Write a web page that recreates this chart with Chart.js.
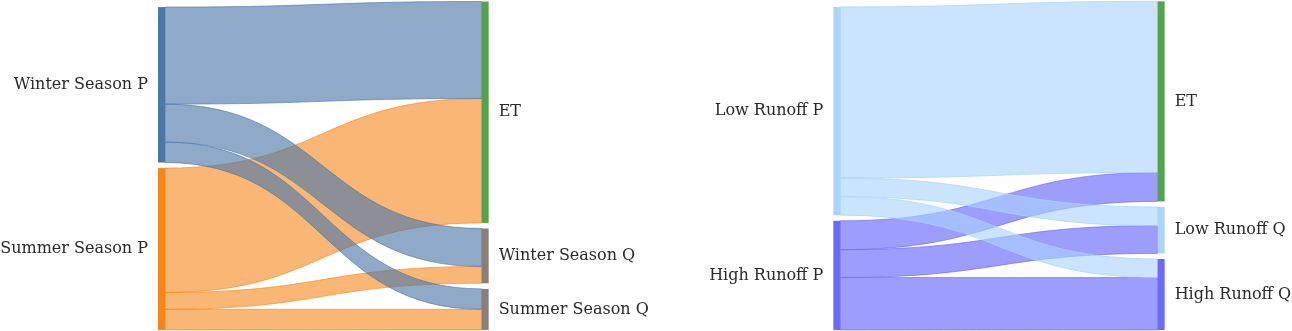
<!DOCTYPE html>
<html>
<head>
<meta charset="utf-8">
<script src="https://cdn.jsdelivr.net/npm/chart.js@4.4.0/dist/chart.umd.min.js"></script>
<style>
  html, body { margin: 0; padding: 0; background: #ffffff; }
  #wrap { width: 1292px; height: 331px; position: relative; }
</style>
</head>
<body>
<div id="wrap"><canvas id="sankey"></canvas></div>
<script>
// left panel: seasonal partition of precipitation
var seasonSources = ['Winter Season P', 'Summer Season P'];
var seasonTargets = ['ET', 'Winter Season Q', 'Summer Season Q'];
// one row per source, one column per target
var seasonFlows = [
    [97.0, 38.0, 20.4],
    [124.4, 16.8, 20.7]
];

// right panel: low / high runoff years
var runoffSources = ['Low Runoff P', 'High Runoff P'];
var runoffTargets = ['ET', 'Low Runoff Q', 'High Runoff Q'];
var runoffFlows = [
    [171.2, 18.6, 18.5],
    [28.9, 27.8, 52.5]
];

var NODE_W = 7;      // px
var NODE_GAP = 5.6;  // value units between stacked nodes
var LABEL_PAD = 10;  // px

var panels = [
    {
        sources: seasonSources, targets: seasonTargets, flows: seasonFlows,
        xSource: 0.1223, xTarget: 0.3728,
        sourceColors: ['#4c78a8', '#f58518'],
        targetColors: ['#54a24b', '#8b7d78', '#8b7d78'],
        linkColors: ['rgba(76,120,168,0.63)', 'rgba(245,133,24,0.6)'],
        linkLines: ['rgba(76,120,168,0.8)', 'rgba(245,133,24,0.75)']
    },
    {
        sources: runoffSources, targets: runoffTargets, flows: runoffFlows,
        xSource: 0.645, xTarget: 0.896,
        sourceColors: ['#aad3ff', '#6b6bff'],
        targetColors: ['#54a24b', '#aad3ff', '#6b6bff'],
        linkColors: ['rgba(170,211,255,0.62)', 'rgba(107,107,255,0.66)'],
        linkLines: ['rgba(170,211,255,0.9)', 'rgba(107,107,255,0.8)']
    }
];

// stack a column of node totals bottom-aligned at `bottom`
function stackColumn(totals, bottom) {
    var sum = 0;
    totals.forEach(function (t) { sum += t; });
    var top = bottom - sum - NODE_GAP * (totals.length - 1);
    var out = [];
    totals.forEach(function (t) {
        out.push({ y0: top, y1: top + t });
        top += t + NODE_GAP;
    });
    return out;
}

var sankeyPlugin = {
    id: 'sankey',
    afterDatasetsDraw: function (chart) {
        var ctx = chart.ctx;
        var xs = chart.scales.x, ys = chart.scales.y;
        var bottom = ys.max - 1;

        panels.forEach(function (p) {
            var srcTot = p.flows.map(function (row) {
                return row.reduce(function (a, b) { return a + b; }, 0);
            });
            var tgtTot = p.targets.map(function (t, j) {
                var s = 0;
                p.flows.forEach(function (row) { s += row[j]; });
                return s;
            });
            var srcNodes = stackColumn(srcTot, bottom);
            var tgtNodes = stackColumn(tgtTot, bottom);

            var sx = xs.getPixelForValue(p.xSource);
            var tx = xs.getPixelForValue(p.xTarget);
            var x0 = sx + NODE_W, x1 = tx, xm = (x0 + x1) / 2;

            // work out every link band first
            var tgtCursor = tgtNodes.map(function (n) { return n.y0; });
            var links = [];
            p.flows.forEach(function (row, i) {
                var sCursor = srcNodes[i].y0;
                row.forEach(function (v, j) {
                    links.push({
                        src: i,
                        a0: ys.getPixelForValue(sCursor),
                        a1: ys.getPixelForValue(sCursor + v),
                        b0: ys.getPixelForValue(tgtCursor[j]),
                        b1: ys.getPixelForValue(tgtCursor[j] + v)
                    });
                    sCursor += v;
                    tgtCursor[j] += v;
                });
            });

            // later sources underneath, first source on top
            links.reverse().forEach(function (l) {
                ctx.beginPath();
                ctx.moveTo(x0, l.a0);
                ctx.bezierCurveTo(xm, l.a0, xm, l.b0, x1, l.b0);
                ctx.lineTo(x1, l.b1);
                ctx.bezierCurveTo(xm, l.b1, xm, l.a1, x0, l.a1);
                ctx.closePath();
                ctx.fillStyle = p.linkColors[l.src];
                ctx.fill();
                ctx.lineWidth = 0.8;
                ctx.strokeStyle = p.linkLines[l.src];
                ctx.stroke();
            });

            // nodes
            function drawNode(x, n, color) {
                var y0 = ys.getPixelForValue(n.y0), y1 = ys.getPixelForValue(n.y1);
                ctx.fillStyle = color;
                ctx.fillRect(x, y0, NODE_W, y1 - y0);
            }
            srcNodes.forEach(function (n, i) { drawNode(sx, n, p.sourceColors[i]); });
            tgtNodes.forEach(function (n, j) { drawNode(tx, n, p.targetColors[j]); });

            // labels
            ctx.font = '16px "DejaVu Serif", serif';
            ctx.fillStyle = '#2a2a2a';
            ctx.textBaseline = 'middle';
            ctx.textAlign = 'right';
            srcNodes.forEach(function (n, i) {
                var cy = ys.getPixelForValue((n.y0 + n.y1) / 2);
                ctx.fillText(p.sources[i], sx - LABEL_PAD, cy);
            });
            ctx.textAlign = 'left';
            tgtNodes.forEach(function (n, j) {
                var cy = ys.getPixelForValue((n.y0 + n.y1) / 2);
                ctx.fillText(p.targets[j], tx + NODE_W + LABEL_PAD, cy);
            });
        });
    }
};

new Chart(document.getElementById('sankey'), {
    type: 'scatter',
    data: { datasets: [{ data: [] }] },
    options: {
        responsive: true,
        maintainAspectRatio: false,
        animation: false,
        layout: { padding: 0 },
        plugins: { legend: { display: false }, tooltip: { enabled: false } },
        scales: {
            x: { type: 'linear', min: 0, max: 1, display: false },
            y: { type: 'linear', min: 0, max: 331, reverse: true, display: false }
        }
    },
    plugins: [sankeyPlugin]
});
</script>
</body>
</html>
